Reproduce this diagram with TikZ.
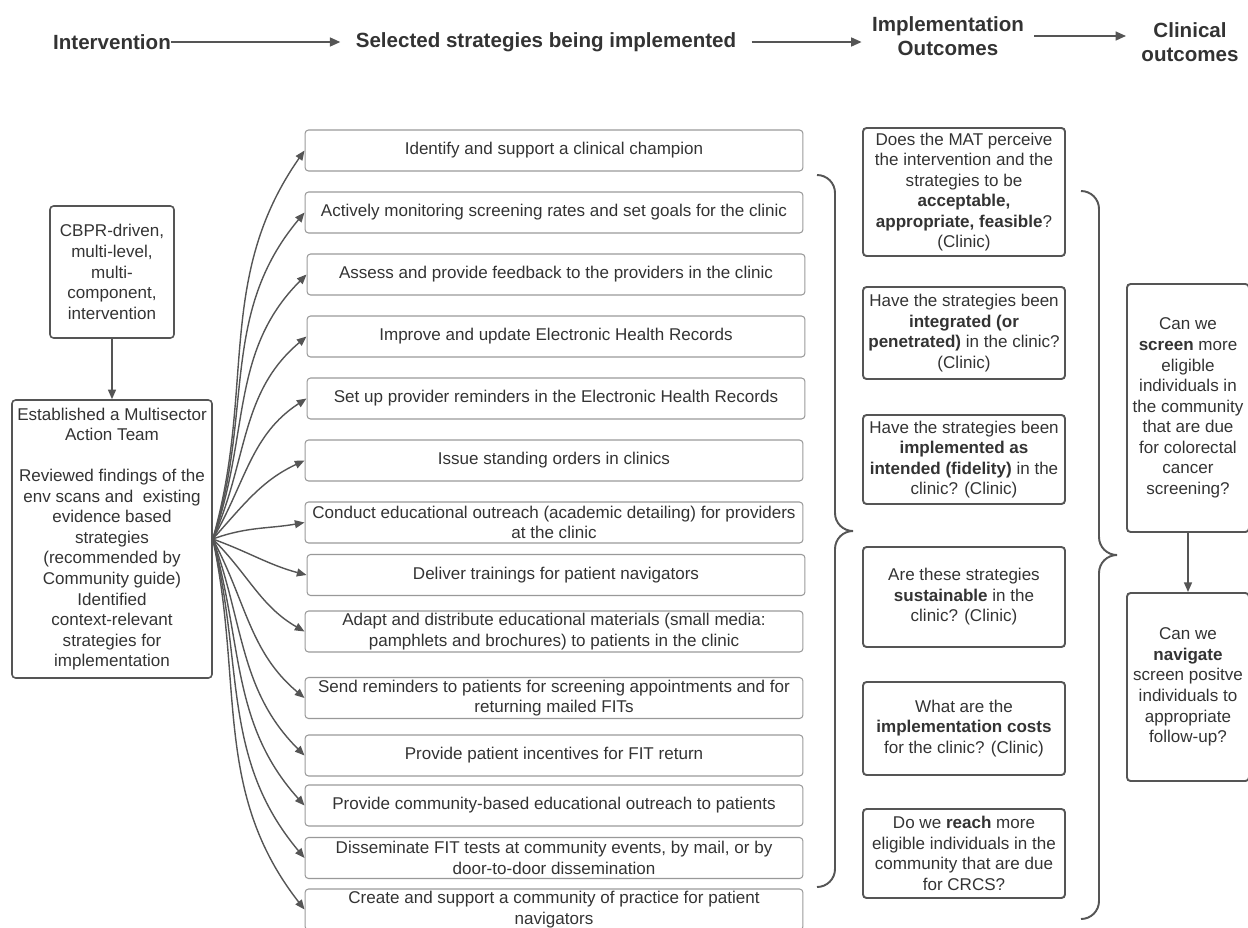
\documentclass[tikz,border=0pt]{standalone}
\usepackage{fontspec}
\setmainfont{Liberation Sans}
\usetikzlibrary{arrows.meta}
\definecolor{ink}{HTML}{333333}
\definecolor{edge}{HTML}{555555}
\definecolor{lightedge}{HTML}{999999}

\begin{document}
\begin{tikzpicture}
[x=0.02cm, y=0.02cm, font=\fontsize{9.7}{11.7}\selectfont, text=ink]
\tikzstyle{head}=[font=\fontsize{11.7}{13.6}\selectfont\bfseries, align=center, inner sep=0pt]
\tikzstyle{harrow}=[draw=edge, line width=1.2pt, -{Triangle[length=6pt,width=5pt]}]
\tikzstyle{strategy}=[draw=lightedge, line width=0.6pt, rounded corners=2pt, align=center, inner sep=1pt, minimum width=9.96cm, minimum height=0.82cm]
\tikzstyle{question}=[draw=edge, line width=1.1pt, rounded corners=2pt, align=center, inner sep=1pt, minimum width=4.04cm]
\tikzstyle{plan}=[draw=edge, line width=0.9pt, rounded corners=2pt, align=center, inner sep=1pt]
\tikzstyle{fan}=[draw=edge, line width=0.8pt, -{Triangle[length=5.5pt,width=4.5pt]}]
\tikzstyle{curly}=[draw=edge, line width=1.1pt]

\useasboundingbox (0,0) rectangle (1248,-927);
\clip (0,0) rectangle (1248,-927);

% column titles
\node[head] (H1) at (112,-42)  {Intervention};
\node[head] (H2) at (546,-42)  {Selected strategies being implemented};
\node[head] (H3) at (948,-36)  {Implementation\\Outcomes};
\node[head] (H4) at (1190,-42) {Clinical\\outcomes};

\draw[harrow, shorten >=0.3cm] (H1.east) -- (H2.west);
\draw[harrow, shorten <=0.3cm, shorten >=0.2cm] (H2.east) -- (H2.east -| H3.west);
\draw[harrow, shorten <=0.2cm, shorten >=0.3cm] (H3.east) -- (H3.east -| H4.west);

% intervention
\node[plan, minimum width=2.48cm, minimum height=2.64cm] (IV) at (112,-272)
  {CBPR-driven,\\multi-level,\\multi-\\component,\\intervention};
\node[plan, minimum width=4cm, minimum height=5.56cm] (MAT) at (112,-539)
  {Established a Multisector\\Action Team\\[11.7pt]
   Reviewed findings of the\\env scans and~ existing\\evidence based\\strategies\\
   (recommended by\\Community guide)\\Identified\\context-relevant\\strategies for\\implementation};
\draw[fan, line width=1pt] (IV) -- (MAT);

% strategies
\node[strategy] (S1)  at (554,-150.5) {Identify and support a clinical champion};
\node[strategy] (S2)  at (554,-212.5) {Actively monitoring screening rates and set goals for the clinic};
\node[strategy] (S3)  at (556,-274.5) {Assess and provide feedback to the providers in the clinic};
\node[strategy] (S4)  at (556,-336.5) {Improve and update Electronic Health Records};
\node[strategy] (S5)  at (556,-398.5) {Set up provider reminders in the Electronic Health Records};
\node[strategy] (S6)  at (554,-460.5) {Issue standing orders in clinics};
\node[strategy] (S7)  at (554,-522.5) {Conduct educational outreach (academic detailing) for providers\\at the clinic};
\node[strategy] (S8)  at (556,-575)   {Deliver trainings for patient navigators};
\node[strategy] (S9)  at (554,-631.5) {Adapt and distribute educational materials (small media:\\pamphlets and brochures) to patients in the clinic};
\node[strategy] (S10) at (554,-698)   {Send reminders to patients for screening appointments and for\\returning mailed FITs};
\node[strategy] (S11) at (554,-755.5) {Provide patient incentives for FIT return};
\node[strategy] (S12) at (554,-805.5) {Provide community-based educational outreach to patients};
\node[strategy] (S13) at (554,-858)   {Disseminate FIT tests at community events, by mail, or by\\door-to-door dissemination};
\node[strategy] (S14) at (554,-909.5) {Create and support a community of practice for patient\\navigators};

\draw[fan] (MAT.east) to[out=74,in=-125]  (S1.west);
\draw[fan] (MAT.east) to[out=72,in=-130]  (S2.west);
\draw[fan] (MAT.east) to[out=70,in=-135]  (S3.west);
\draw[fan] (MAT.east) to[out=66,in=-140]  (S4.west);
\draw[fan] (MAT.east) to[out=60,in=-147]  (S5.west);
\draw[fan] (MAT.east) to[out=48,in=-155]  (S6.west);
\draw[fan] (MAT.east) to[out=20,in=-170]  (S7.west);
\draw[fan] (MAT.east) to[out=-20,in=165]  (S8.west);
\draw[fan] (MAT.east) to[out=-45,in=150]  (S9.west);
\draw[fan] (MAT.east) to[out=-62,in=140]  (S10.west);
\draw[fan] (MAT.east) to[out=-70,in=135]  (S11.west);
\draw[fan] (MAT.east) to[out=-74,in=132]  (S12.west);
\draw[fan] (MAT.east) to[out=-76,in=130]  (S13.west);
\draw[fan] (MAT.east) to[out=-78,in=128]  (S14.west);

\draw[curly] (817,-175) to[out=0,in=90] (835,-193) -- (835,-513) to[out=-90,in=180] (853,-531)
  to[out=180,in=90] (835,-549) -- (835,-869) to[out=-90,in=0] (817,-887);

% implementation outcomes
\node[question, minimum height=2.56cm] (IO1) at (964,-192)
  {Does the MAT perceive\\the intervention and the\\strategies to be\\\textbf{acceptable,}\\\textbf{appropriate, feasible}?\\(Clinic)};
\node[question, minimum height=1.84cm] (IO2) at (964,-333)
  {Have the strategies been\\\textbf{integrated (or}\\\textbf{penetrated)} in the clinic?\\(Clinic)};
\node[question, minimum height=1.78cm] (IO3) at (964,-459.5)
  {Have the strategies been\\\textbf{implemented as}\\\textbf{intended (fidelity)} in the\\clinic? (Clinic)};
\node[question, minimum height=2cm] (IO4) at (964,-597)
  {Are these strategies\\\textbf{sustainable} in the\\clinic? (Clinic)};
\node[question, minimum height=1.86cm] (IO5) at (964,-728.5)
  {What are the\\\textbf{implementation costs}\\for the clinic? (Clinic)};
\node[question, minimum height=1.78cm] (IO6) at (964,-853.5)
  {Do we \textbf{reach} more\\eligible individuals in the\\community that are due\\for CRCS?};

\draw[curly] (1081,-191) to[out=0,in=90] (1099,-209) -- (1099,-537) to[out=-90,in=180] (1117,-555)
  to[out=180,in=90] (1099,-573) -- (1099,-901) to[out=-90,in=0] (1081,-919);

% clinical outcomes
\node[question, minimum width=2.44cm, minimum height=4.96cm] (CO1) at (1188,-408)
  {Can we\\\textbf{screen} more\\eligible\\individuals in\\the community\\that are due\\for colorectal\\cancer\\screening?};
\node[question, minimum width=2.44cm, minimum height=3.76cm] (CO2) at (1188,-687)
  {Can we\\\textbf{navigate}\\screen positve\\individuals to\\appropriate\\follow-up?};
\draw[fan, line width=1pt] (CO1) -- (CO2);
\end{tikzpicture}
\end{document}
